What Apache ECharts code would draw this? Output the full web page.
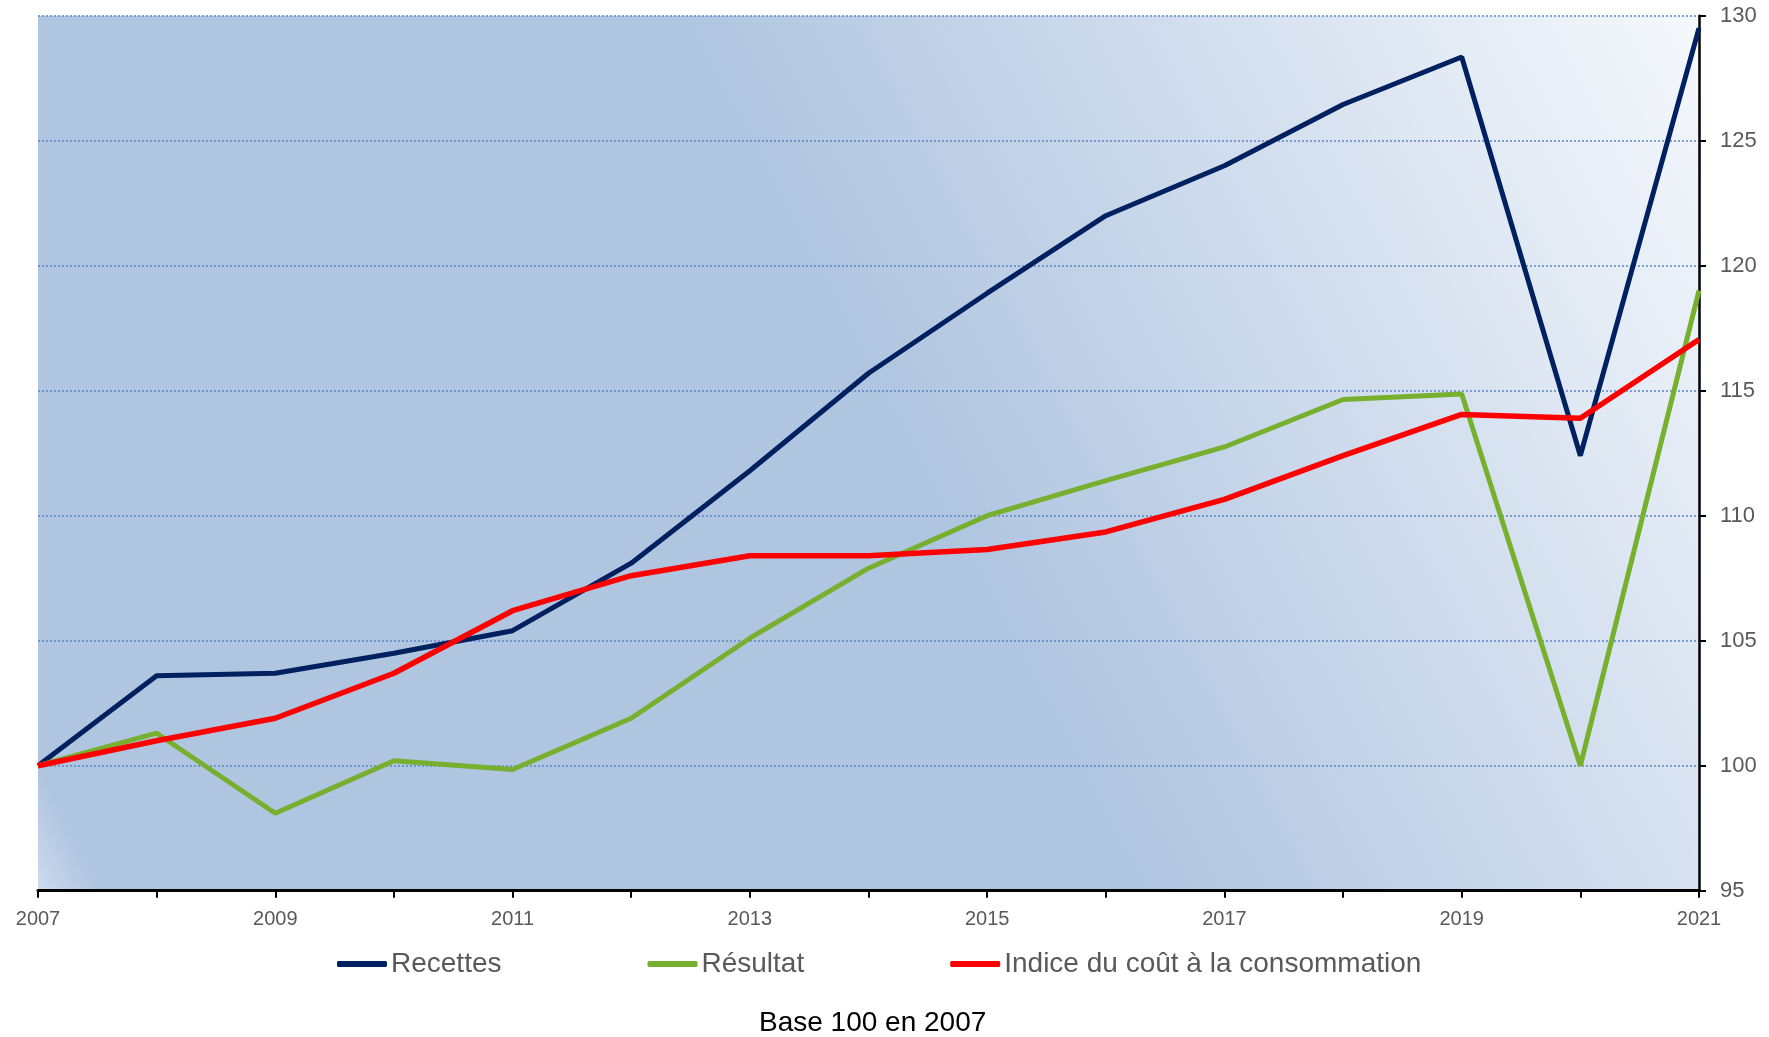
<!DOCTYPE html>
<html>
<head>
<meta charset="utf-8">
<script src="https://cdn.jsdelivr.net/npm/echarts@6/dist/echarts.min.js"></script>
<style>
html,body{margin:0;padding:0;background:#fff;}
#chart{width:1769px;height:1037px;}
</style>
</head>
<body>
<div id="chart"></div>
<script>
const years = ['2007','2008','2009','2010','2011','2012','2013','2014','2015','2016','2017','2018','2019','2020','2021'];
const recettes = [100, 103.6, 103.7, 104.5, 105.4, 108.1, 111.8, 115.7, 118.9, 122.0, 124.0, 126.45, 128.35, 112.4, 129.5];
const resultat = [100, 101.3, 98.1, 100.2, 99.85, 101.9, 105.1, 107.9, 110.0, 111.4, 112.75, 114.65, 114.87, 100.0, 119.0];
const indice = [100, 101.0, 101.9, 103.7, 106.2, 107.6, 108.4, 108.4, 108.65, 109.35, 110.65, 112.4, 114.05, 113.9, 117.05];
const seriesNames = ['Recettes', 'Résultat', 'Indice du coût à la consommation'];
const seriesColors = ['#00205f', '#76b02e', '#ff0000'];
const yMin = 95, yMax = 130, yStep = 5;
const footnote = 'Base 100 en 2007';

const chart = echarts.init(document.getElementById('chart'), null, {renderer: 'canvas'});
const dataSets = [recettes, resultat, indice];
const option = {
  animation: false,
  backgroundColor: '#ffffff',
  grid: {
    left: 38, right: 70, top: 15.7, bottom: 146.3,
    show: true,
    borderWidth: 0,
    backgroundColor: {
      type: 'linear', x: 0, y: 1, x2: 1, y2: 0,
      colorStops: [
        {offset: 0, color: '#cddbed'},
        {offset: 0.03, color: '#b0c5e0'},
        {offset: 0.52, color: '#b0c5e0'},
        {offset: 1, color: '#f5f8fc'}
      ]
    }
  },
  title: {
    text: footnote,
    left: 754, top: 1004,
    textStyle: {fontFamily: 'Liberation Sans', fontSize: 28, fontWeight: 'normal', color: '#000000'}
  },
  legend: {
    left: 332, top: 945,
    itemGap: 146,
    itemWidth: 50, itemHeight: 6,
    icon: 'roundRect',
    textStyle: {fontFamily: 'Liberation Sans', fontSize: 28, color: '#595959', padding: [0,0,0,-1]},
    data: seriesNames
  },
  xAxis: {
    type: 'category',
    data: years,
    boundaryGap: false,
    axisLine: {show: true, lineStyle: {color: '#000000', width: 3}},
    axisTick: {show: true, interval: 0, length: 7, lineStyle: {color: '#000000', width: 2}},
    axisLabel: {interval: 1, margin: 19, fontFamily: 'Liberation Sans Narrow, Liberation Sans', fontSize: 20, color: '#595959'},
    splitLine: {show: false}
  },
  yAxis: {
    type: 'value',
    position: 'right',
    min: yMin, max: yMax, interval: yStep,
    axisLine: {show: true, lineStyle: {color: '#000000', width: 2.5}},
    axisTick: {show: true, length: 7, lineStyle: {color: '#000000', width: 2}},
    axisLabel: {margin: 21, fontFamily: 'Liberation Sans', fontSize: 22, color: '#595959'},
    splitLine: {show: true, lineStyle: {color: '#5a87c2', width: 1.5, type: [2, 2]}}
  },
  series: seriesNames.map((n, i) => ({
    name: n,
    type: 'line',
    data: dataSets[i],
    symbol: 'none',
    color: seriesColors[i],
    lineStyle: {color: seriesColors[i], width: i === 2 ? 5.5 : 5},
    itemStyle: {color: seriesColors[i]},
    z: 2 + i
  }))
};
chart.setOption(option);
</script>
</body>
</html>
